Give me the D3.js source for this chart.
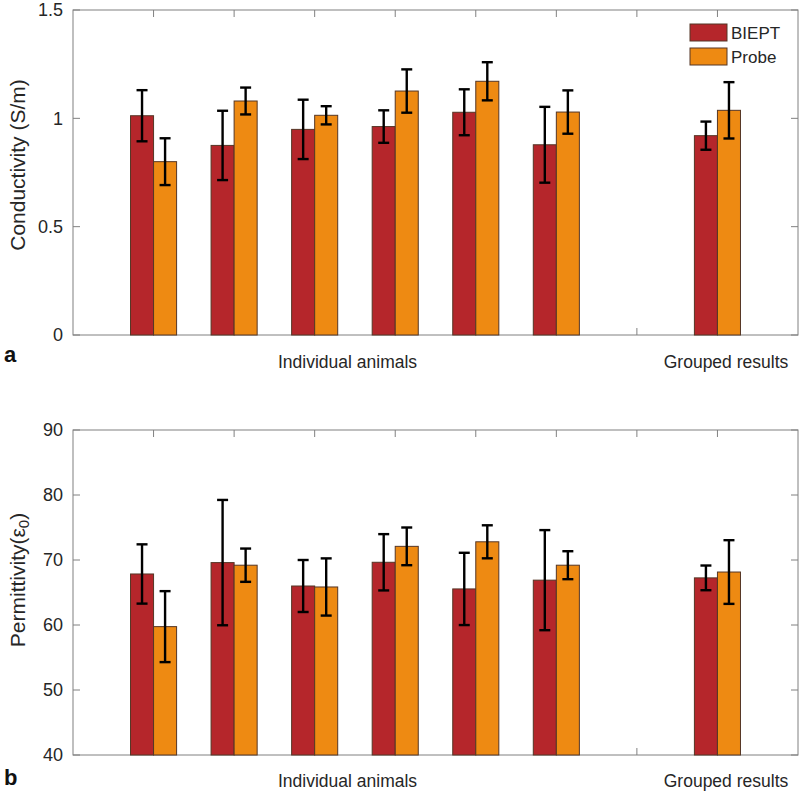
<!DOCTYPE html>
<html>
<head>
<meta charset="utf-8">
<script src="https://cdn.jsdelivr.net/npm/d3@7"></script>
<style>
  html, body { margin: 0; padding: 0; background: #fff; }
  svg { display: block; font-family: "Liberation Sans", Arial, sans-serif; }
</style>
</head>
<body>
<svg id="chart" width="800" height="795"></svg>
<script>
// ---- Data ----
const positions = [1, 2, 3, 4, 5, 6, 8];           // group slots (7 is an empty gap)
const xTicks = [1, 2, 3, 4, 5, 6, 7, 8];
const seriesNames = ["BIEPT", "Probe"];

const condBIEPT    = [1.012, 0.875, 0.949, 0.962, 1.028, 0.878, 0.920];
const condBIEPTErr = [0.118, 0.160, 0.137, 0.075, 0.106, 0.175, 0.065];
const condProbe    = [0.800, 1.080, 1.014, 1.126, 1.171, 1.029, 1.037];
const condProbeErr = [0.108, 0.062, 0.042, 0.100, 0.088, 0.100, 0.130];

const permBIEPT    = [67.85, 69.60, 66.00, 69.65, 65.55, 66.90, 67.25];
const permBIEPTErr = [4.56, 9.64, 4.00, 4.33, 5.56, 7.70, 1.90];
const permProbe    = [59.75, 69.20, 65.85, 72.10, 72.80, 69.20, 68.15];
const permProbeErr = [5.46, 2.56, 4.40, 2.90, 2.54, 2.15, 4.90];

const condTicks = [0, 0.5, 1, 1.5];
const condTickLabels = ["0", "0.5", "1", "1.5"];
const permTicks = [40, 50, 60, 70, 80, 90];
const permTickLabels = ["40", "50", "60", "70", "80", "90"];

const groupLabels = ["Individual animals", "Grouped results"];

// ---- Style ----
const colors = ["#b5262b", "#ee8a12"];
const edgeColor = "#553626";
const axisColor = "#808080";
const textColor = "#262626";

const svg = d3.select("#chart");

const x = d3.scaleLinear().domain([0, 9]).range([73, 798]);
const barW = 0.286;          // in x data units
const offsets = [-barW / 2, barW / 2];

function drawPanel(opts) {
  const { top, bottom, yDomain, ticks, tickLabels, series, errs, ylabel, panelLetter, letterY, labelY, ylabelCenter } = opts;
  const y = d3.scaleLinear().domain(yDomain).range([bottom, top]);
  const g = svg.append("g");
  const L = x.range()[0], R = x.range()[1];

  // box
  g.append("rect").attr("x", L).attr("y", top).attr("width", R - L).attr("height", bottom - top)
    .attr("fill", "none").attr("stroke", axisColor).attr("stroke-width", 1);

  // x ticks (inward, top and bottom)
  const tk = 7;
  xTicks.forEach(t => {
    const xx = x(t);
    g.append("line").attr("x1", xx).attr("x2", xx).attr("y1", bottom).attr("y2", bottom - tk)
      .attr("stroke", axisColor);
    g.append("line").attr("x1", xx).attr("x2", xx).attr("y1", top).attr("y2", top + tk)
      .attr("stroke", axisColor);
  });
  // y ticks (inward, left and right)
  ticks.forEach((t, i) => {
    const yy = y(t);
    g.append("line").attr("x1", L).attr("x2", L + tk).attr("y1", yy).attr("y2", yy).attr("stroke", axisColor);
    g.append("line").attr("x1", R).attr("x2", R - tk).attr("y1", yy).attr("y2", yy).attr("stroke", axisColor);
    g.append("text").attr("x", L - 10).attr("y", yy).attr("dy", "0.36em")
      .attr("text-anchor", "end").attr("font-size", 18).attr("fill", textColor)
      .text(tickLabels[i]);
  });

  // bars
  series.forEach((vals, s) => {
    g.selectAll(null).data(positions.map((p, i) => ({ p, v: vals[i], e: errs[s][i] })))
      .enter().append("rect")
      .attr("x", d => x(d.p + offsets[s] - barW / 2))
      .attr("width", d => x(d.p + offsets[s] + barW / 2) - x(d.p + offsets[s] - barW / 2))
      .attr("y", d => y(d.v))
      .attr("height", d => y(yDomain[0]) - y(d.v))
      .attr("fill", colors[s]).attr("stroke", edgeColor).attr("stroke-width", 1);
  });
  // error bars
  const cap = 5.5;
  series.forEach((vals, s) => {
    positions.forEach((p, i) => {
      const cx = x(p + offsets[s]);
      const y1 = y(vals[i] + errs[s][i]), y0 = y(vals[i] - errs[s][i]);
      g.append("line").attr("x1", cx).attr("x2", cx).attr("y1", y1).attr("y2", y0)
        .attr("stroke", "#000").attr("stroke-width", 2.4);
      [y1, y0].forEach(yy => g.append("line").attr("x1", cx - cap).attr("x2", cx + cap)
        .attr("y1", yy).attr("y2", yy).attr("stroke", "#000").attr("stroke-width", 2.4));
    });
  });

  // y label
  const yl = g.append("text").attr("transform", `translate(25,${ylabelCenter}) rotate(-90)`)
    .attr("text-anchor", "middle").attr("font-size", 21).attr("fill", textColor);
  if (Array.isArray(ylabel)) {
    yl.append("tspan").text(ylabel[0]);
    yl.append("tspan").attr("font-size", 15).attr("dy", 4).text(ylabel[1]);
    yl.append("tspan").attr("dy", -4).text(ylabel[2]);
  } else {
    yl.text(ylabel);
  }

  // group labels
  g.append("text").attr("x", 278).attr("y", labelY).attr("font-size", 17.5).attr("fill", textColor)
    .text(groupLabels[0]);
  g.append("text").attr("x", 726).attr("y", labelY).attr("text-anchor", "middle")
    .attr("font-size", 17.5).attr("fill", textColor).text(groupLabels[1]);

  // panel letter
  g.append("text").attr("x", 4).attr("y", letterY).attr("font-size", 22).attr("font-weight", "bold")
    .attr("fill", "#111").text(panelLetter);
  return g;
}

drawPanel({
  top: 10, bottom: 335, yDomain: [0, 1.5], ticks: condTicks, tickLabels: condTickLabels,
  series: [condBIEPT, condProbe], errs: [condBIEPTErr, condProbeErr],
  ylabel: "Conductivity (S/m)", panelLetter: "a", letterY: 362, labelY: 368, ylabelCenter: 165
});
drawPanel({
  top: 430, bottom: 755, yDomain: [40, 90], ticks: permTicks, tickLabels: permTickLabels,
  series: [permBIEPT, permProbe], errs: [permBIEPTErr, permProbeErr],
  ylabel: ["Permittivity(ε", "0", ")"], panelLetter: "b", letterY: 785, labelY: 787, ylabelCenter: 580
});

// legend (top panel)
const leg = svg.append("g");
seriesNames.forEach((n, i) => {
  const yy = [24, 48][i];
  leg.append("rect").attr("x", 690).attr("y", yy).attr("width", 37).attr("height", 17)
    .attr("fill", colors[i]).attr("stroke", edgeColor).attr("stroke-width", 1);
  leg.append("text").attr("x", 731).attr("y", yy + 8.5).attr("dy", "0.36em")
    .attr("font-size", 17).attr("fill", textColor).text(n);
});
</script>
</body>
</html>
